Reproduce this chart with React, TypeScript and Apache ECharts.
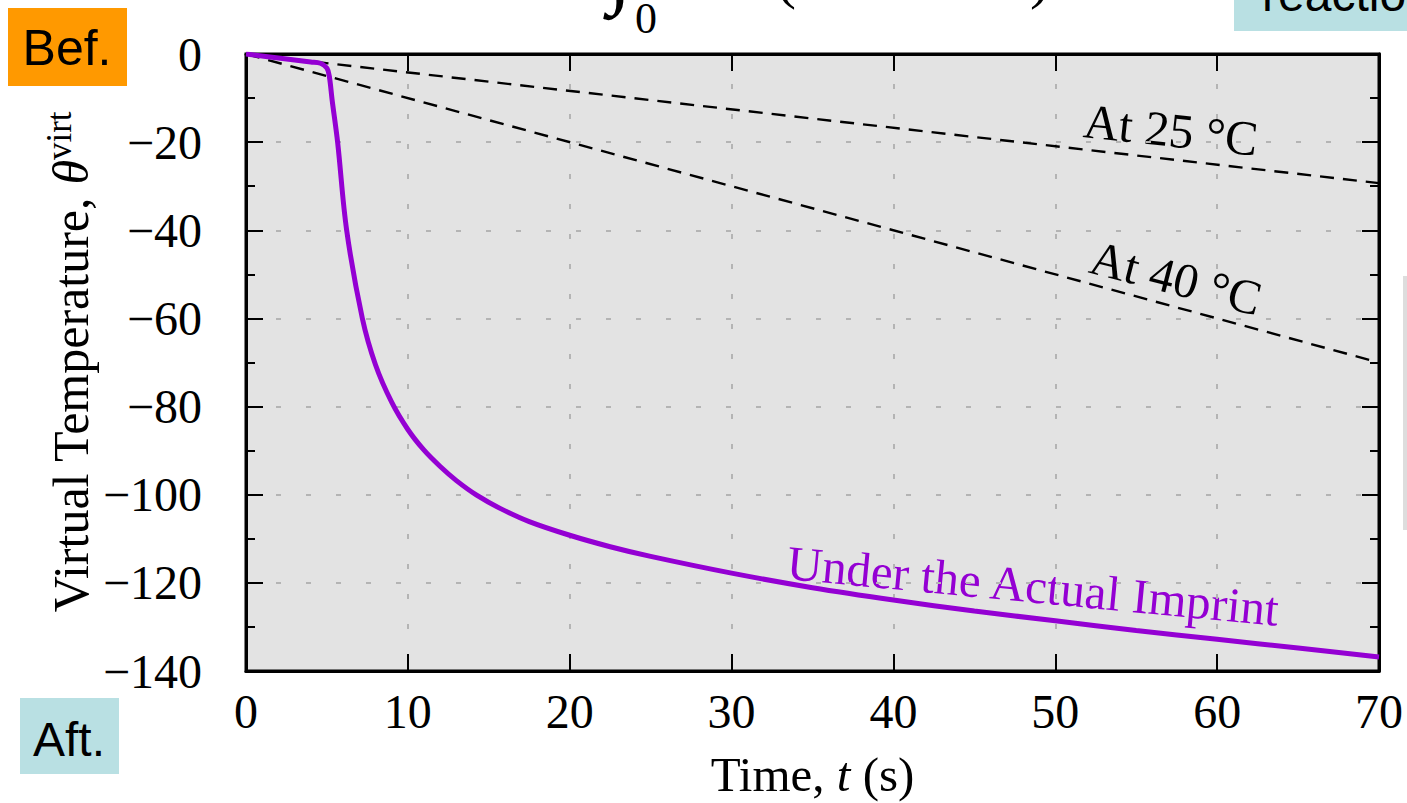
import React, { useEffect, useRef } from "react";
import * as echarts from "echarts";

// ---- data ----
const timeActual = [0, 2, 4, 4.6, 5.0, 5.15, 5.32, 5.66, 6.22, 7.19, 8.0, 9.0, 10, 11, 12, 13, 14.25, 15.7, 17.5, 20, 22.5, 25, 30, 35, 40, 45, 50, 55, 60, 65, 70];
const thetaActual = [0, -0.9, -1.8, -2.1, -3.2, -5.1, -10.4, -20, -40, -60, -70.5, -79, -85.2, -89.9, -93.6, -96.8, -100.1, -103.1, -106.1, -109.2, -111.8, -114, -117.8, -121.1, -123.9, -126.4, -128.6, -130.8, -132.8, -134.8, -136.8];
const timeRef = [0, 70];
const theta25 = [0, -29.3];
const theta40 = [0, -70];
const xTicks = { min: 0, max: 70, interval: 10 };
const yTicks = { min: -140, max: 0, interval: 20 };

const SERIF = "'Liberation Serif', 'Times New Roman', serif";
const SANS = "'Liberation Sans', Arial, sans-serif";
const PURPLE = "#9400d3";

const zip = (xs: number[], ys: number[]) => xs.map((x, i) => [x, ys[i]]);

export default function App() {
  const ref = useRef<HTMLDivElement>(null);
  useEffect(() => {
    if (!ref.current) return;
    const chart = echarts.init(ref.current, undefined, { renderer: "svg" });
    const deg = Math.PI / 180;
    const axisCommon = {
      axisLine: { show: true, onZero: false, lineStyle: { color: "#000", width: 3 } },
      axisTick: { show: true, inside: true, length: 17, lineStyle: { color: "#000", width: 2 } },
    };
    const minus = (v: number) => (v < 0 ? "\u2212" + Math.abs(v) : String(v));
    const center = { align: "center", verticalAlign: "middle", textAlign: "center", textVerticalAlign: "middle" };
    chart.setOption({
      animation: false,
      backgroundColor: "#fff",
      grid: {
        left: 246, right: 28, top: 54, bottom: 132,
        containLabel: false,
        outerBoundsMode: "none",
        show: true, backgroundColor: "#e3e3e3", borderColor: "#000", borderWidth: 3,
      },
      xAxis: [
        {
          type: "value", position: "bottom", ...xTicks, ...axisCommon,
          axisLabel: { fontFamily: SERIF, fontSize: 48, color: "#000", margin: 16 },
          splitLine: { show: true, lineStyle: { color: "#b4b4b4", width: 2, type: [5, 25] } },
          name: "{n|Time, }{i|t}{n| (s)}",
          nameLocation: "middle",
          nameGap: 79,
          nameTextStyle: {
            rich: {
              n: { fontFamily: SERIF, fontSize: 49, color: "#000" },
              i: { fontFamily: SERIF, fontSize: 49, color: "#000", fontStyle: "italic" },
            },
          },
        },
        {
          type: "value", position: "top", ...xTicks, ...axisCommon,
          axisLabel: { show: false }, splitLine: { show: false },
        },
      ],
      yAxis: [
        {
          type: "value", position: "left", ...yTicks, ...axisCommon,
          minorTick: { show: true, splitNumber: 2, length: 9, lineStyle: { color: "#000", width: 2 } },
          axisLabel: { fontFamily: SERIF, fontSize: 48, color: "#000", margin: 44, formatter: minus },
          splitLine: { show: true, lineStyle: { color: "#b4b4b4", width: 2, type: [5, 25] } },
        },
        {
          type: "value", position: "right", ...yTicks, ...axisCommon,
          minorTick: { show: true, splitNumber: 2, length: 9, lineStyle: { color: "#000", width: 2 } },
          axisLabel: { show: false }, splitLine: { show: false },
        },
      ],
      series: [
        {
          type: "line", data: zip(timeRef, theta25), showSymbol: false, silent: true,
          lineStyle: { color: "#000", width: 2.4, type: [14, 9] },
        },
        {
          type: "line", data: zip(timeRef, theta40), showSymbol: false, silent: true,
          lineStyle: { color: "#000", width: 2.4, type: [14, 9] },
        },
        {
          type: "line", data: zip(timeActual, thetaActual), showSymbol: false, silent: true,
          smooth: 0.35,
          lineStyle: { color: PURPLE, width: 5 },
        },
      ],
      graphic: [
        // y-axis title
        {
          type: "text", x: 71, y: 362, rotation: 90 * deg,
          style: {
            text: "{n|Virtual Temperature, }{i|\u03b8}{s|virt}",
            ...center,
            rich: {
              n: { fontFamily: SERIF, fontSize: 50, lineHeight: 50, fill: "#000", color: "#000" },
              i: { fontFamily: SERIF, fontSize: 50, lineHeight: 50, fontStyle: "italic", fill: "#000", color: "#000" },
              s: { fontFamily: SERIF, fontSize: 35, lineHeight: 35, fill: "#000", color: "#000", padding: [0, 0, 24, 0] },
            },
          },
        },
        // annotations
        {
          type: "text", x: 1171, y: 130, rotation: -6.2 * deg,
          style: { text: "At 25 \u00b0C", fontFamily: SERIF, fontSize: 49, fill: "#000", ...center },
        },
        {
          type: "text", x: 1176, y: 278, rotation: -14.5 * deg,
          style: { text: "At 40 \u00b0C", fontFamily: SERIF, fontSize: 49, fill: "#000", ...center },
        },
        {
          type: "text", x: 1033, y: 586, rotation: -5.45 * deg,
          style: { text: "Under the Actual Imprint", fontFamily: SERIF, fontSize: 49, fill: PURPLE, ...center },
        },
        // Bef. / Aft. boxes
        { type: "rect", shape: { x: 8, y: 8, width: 119, height: 78 }, style: { fill: "#ff9900" } },
        {
          type: "text", x: 67, y: 48,
          style: { text: "Bef.", fontFamily: SANS, fontSize: 50, fill: "#000", ...center },
        },
        { type: "rect", shape: { x: 20, y: 698, width: 99, height: 76 }, style: { fill: "#b9e0e3" } },
        {
          type: "text", x: 69, y: 739,
          style: { text: "Aft.", fontFamily: SANS, fontSize: 48, fill: "#000", ...center },
        },
        { type: "rect", shape: { x: 1234, y: 0, width: 173, height: 31 }, style: { fill: "#b9e0e3" } },
        {
          type: "text", x: 1262, y: -6,
          style: { text: "reactio", fontFamily: SANS, fontSize: 48, fill: "#000", align: "left", verticalAlign: "middle", textAlign: "left", textVerticalAlign: "middle" },
        },
        { type: "rect", shape: { x: 1403, y: 276, width: 4, height: 254 }, style: { fill: "#dddddd" } },
        // clipped formula at top
        {
          type: "text", x: 620, y: -35,
          style: { text: "\u222b", fontFamily: SERIF, fontSize: 90, fontStyle: "italic", fill: "#000", ...center },
        },
        {
          type: "text", x: 646, y: 18,
          style: { text: "0", fontFamily: SERIF, fontSize: 44, fill: "#000", ...center },
        },
        {
          type: "text", x: 786, y: -23,
          style: { text: "(", fontFamily: SERIF, fontSize: 60, fill: "#000", ...center },
        },
        {
          type: "text", x: 1040, y: -23,
          style: { text: ")", fontFamily: SERIF, fontSize: 60, fill: "#000", ...center },
        },
      ],
    });
    return () => chart.dispose();
  }, []);
  return (
    <div
      ref={ref}
      style={{ position: "absolute", left: 0, top: 0, width: 1407, height: 803, background: "#fff" }}
    />
  );
}
